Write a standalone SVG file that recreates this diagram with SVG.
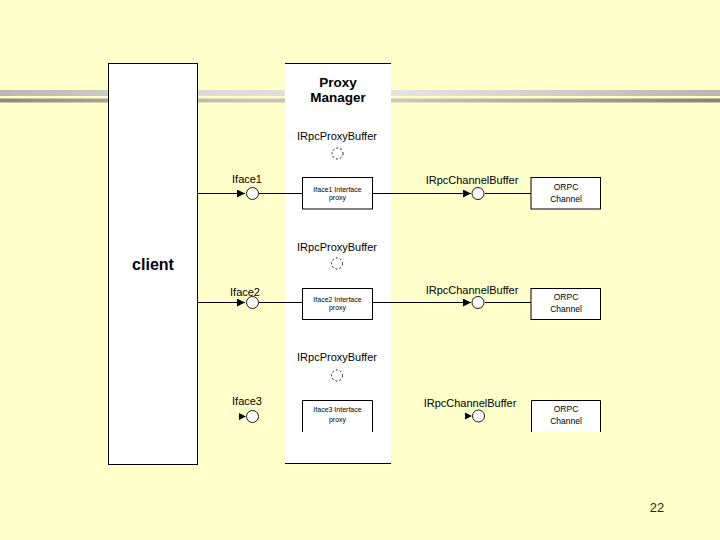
<svg xmlns="http://www.w3.org/2000/svg" width="720" height="540" viewBox="0 0 720 540">
<defs>
<linearGradient id="barTop" x1="0" y1="0" x2="720" y2="0" gradientUnits="userSpaceOnUse">
<stop offset="0" stop-color="#b8b8b0"/>
<stop offset="0.3" stop-color="#dcdcd6"/>
<stop offset="0.55" stop-color="#e6e6e0"/>
<stop offset="1" stop-color="#b8b6ae"/>
</linearGradient>
<linearGradient id="barBot" x1="0" y1="0" x2="720" y2="0" gradientUnits="userSpaceOnUse">
<stop offset="0" stop-color="#8c8880"/>
<stop offset="0.3" stop-color="#c4c0b6"/>
<stop offset="0.55" stop-color="#ccc8be"/>
<stop offset="1" stop-color="#858078"/>
</linearGradient>
<marker id="arr" markerWidth="8" markerHeight="8" refX="8" refY="4" orient="auto" markerUnits="userSpaceOnUse">
<path d="M0,0 L8,4 L0,8 Z" fill="#000"/>
</marker>
</defs>
<style>
text{font-family:"Liberation Sans",Arial,sans-serif;fill:#000}
.lbl{font-size:11px;text-anchor:middle}
.small{font-size:7px;text-anchor:middle}
.orpc{font-size:8.5px;text-anchor:middle}
.box{fill:#fff;stroke:#000;stroke-width:1}
.ln{stroke:#000;stroke-width:1;fill:none}
.lolly{fill:#fff;stroke:#000;stroke-width:0.9}
.dash{fill:#fff;stroke:#000;stroke-width:0.9;stroke-dasharray:2,2}
</style>
<rect x="0" y="0" width="720" height="540" fill="#ffffcc"/>
<rect x="0" y="90" width="720" height="6" fill="url(#barTop)"/>
<rect x="0" y="98.5" width="720" height="4" fill="url(#barBot)"/>

<g id="client">
<rect x="108.5" y="63.5" width="89" height="401" class="box"/>
<text x="153" y="270" font-size="16" font-weight="bold" text-anchor="middle">client</text>
</g>

<g id="proxy-manager">
<rect x="285" y="63" width="106" height="401" fill="#fff"/>
<line x1="285" y1="63.5" x2="391" y2="63.5" class="ln"/>
<line x1="285" y1="463.5" x2="391" y2="463.5" class="ln"/>
<text x="338" y="86.5" font-size="13.5" font-weight="bold" text-anchor="middle">Proxy</text>
<text x="338" y="101.5" font-size="13.5" font-weight="bold" text-anchor="middle">Manager</text>
</g>

<g id="connectors">
<line x1="197.5" y1="193.5" x2="245" y2="193.5" class="ln" marker-end="url(#arr)"/>
<line x1="259" y1="193.5" x2="302.5" y2="193.5" class="ln"/>
<line x1="372.5" y1="193.5" x2="471" y2="193.5" class="ln" marker-end="url(#arr)"/>
<line x1="485" y1="193.5" x2="531" y2="193.5" class="ln"/>
<line x1="197.5" y1="302.5" x2="245" y2="302.5" class="ln" marker-end="url(#arr)"/>
<line x1="259" y1="302.5" x2="302.5" y2="302.5" class="ln"/>
<line x1="372.5" y1="302.5" x2="471" y2="302.5" class="ln" marker-end="url(#arr)"/>
<line x1="485" y1="302.5" x2="531" y2="302.5" class="ln"/>
<path d="M239,413 L246,416.5 L239,420 Z" fill="#000"/>
<path d="M465,412.5 L472,416 L465,419.5 Z" fill="#000"/>
</g>

<g id="row1">
<text x="337" y="140" class="lbl">IRpcProxyBuffer</text>
<circle cx="337.5" cy="153.5" r="5.5" class="dash"/>
<text x="247" y="183" class="lbl">Iface1</text>
<circle cx="252.5" cy="193.5" r="6" class="lolly"/>
<rect x="302.5" y="177.5" width="70" height="31.5" class="box"/>
<text x="337.5" y="192" class="small">Iface1 Interface</text>
<text x="337.5" y="200" class="small">proxy</text>
<text x="472" y="184" class="lbl">IRpcChannelBuffer</text>
<circle cx="478" cy="193.5" r="6" class="lolly"/>
<rect x="531" y="177.5" width="69.5" height="31.5" class="box"/>
<text x="566" y="189.5" class="orpc">ORPC</text>
<text x="566" y="201.5" class="orpc">Channel</text>
</g>

<g id="row2">
<text x="337" y="250.5" class="lbl">IRpcProxyBuffer</text>
<circle cx="337" cy="263.5" r="5.5" class="dash"/>
<text x="245" y="296" class="lbl">Iface2</text>
<circle cx="252.5" cy="302.5" r="6" class="lolly"/>
<rect x="302.5" y="288.5" width="70" height="31" class="box"/>
<text x="337.5" y="302" class="small">Iface2 Interface</text>
<text x="337.5" y="310" class="small">proxy</text>
<text x="472" y="294" class="lbl">IRpcChannelBuffer</text>
<circle cx="478" cy="302.5" r="6" class="lolly"/>
<rect x="531" y="288.5" width="69.5" height="31" class="box"/>
<text x="566" y="299.5" class="orpc">ORPC</text>
<text x="566" y="311.5" class="orpc">Channel</text>
</g>

<g id="row3">
<text x="337" y="361" class="lbl">IRpcProxyBuffer</text>
<circle cx="337" cy="375.5" r="5.5" class="dash"/>
<text x="247" y="405" class="lbl">Iface3</text>
<circle cx="252.5" cy="416.5" r="6" class="lolly"/>
<path d="M302.5,432 V400.5 H372.5 V432" fill="#fff" stroke="#000" stroke-width="1"/>
<text x="337.5" y="412" class="small">Iface3 Interface</text>
<text x="337.5" y="422" class="small">proxy</text>
<text x="470" y="407" class="lbl">IRpcChannelBuffer</text>
<circle cx="478.5" cy="416" r="6" class="lolly"/>
<path d="M531.5,432 V400.5 H600.5 V432" fill="#fff" stroke="#000" stroke-width="1"/>
<text x="566" y="412" class="orpc">ORPC</text>
<text x="566" y="424" class="orpc">Channel</text>
</g>

<text x="657" y="512" font-size="13" text-anchor="middle" fill="#332211" style="fill:#332211">22</text>
</svg>
